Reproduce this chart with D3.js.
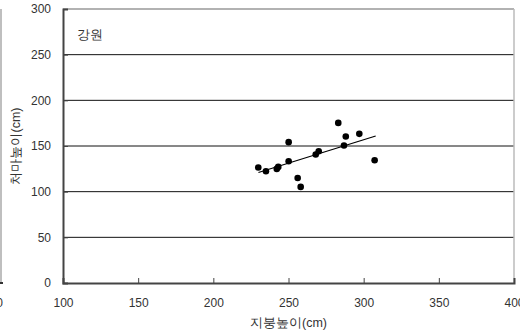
<!DOCTYPE html>
<html><head><meta charset="utf-8">
<script src="https://cdn.jsdelivr.net/npm/d3@7"></script>
<style>body{margin:0;background:#fff}svg{display:block}text{font-family:"Liberation Sans",Arial,sans-serif}</style>
</head><body><svg id="c" width="520" height="336"></svg>
<script>
const region = "강원";
const xTitle = "지붕높이(cm)";
const yTitle = "처마높이(cm)";
const xTicks = [100,150,200,250,300,350,400];
const yTicks = [0,50,100,150,200,250,300];
const roofHeight = [229.9,235.0,242.2,243.2,250.1,250.1,256.1,258.1,268.1,270.1,283.1,286.9,288.1,297.1,307.3];
const eaveHeight = [126.4,122.4,124.9,127.1,154.2,133.3,115.0,105.2,140.7,144.3,175.3,150.5,160.4,163.3,134.4];
const trendX = [230,308];
const trendY = [121,161];

const svg = d3.select("#c");
const L=63,R=514,T=9,B=283;
const x = d3.scaleLinear().domain([100,400]).range([L,R]);
const y = d3.scaleLinear().domain([0,300]).range([B,T]);

// remnant of neighbouring panel at left
svg.append("line").attr("x1",1).attr("x2",1).attr("y1",T).attr("y2",B).attr("stroke","#aaa").attr("stroke-width",1.5);
svg.append("line").attr("x1",0).attr("x2",3).attr("y1",B).attr("y2",B).attr("stroke","#333").attr("stroke-width",2);
svg.append("text").attr("x",-7).attr("y",307).attr("text-anchor","middle").attr("font-size",12).attr("fill","#333").text("400");

// gridlines
svg.append("g").selectAll("line").data(yTicks.filter(d=>d>0&&d<300)).join("line")
  .attr("x1",L).attr("x2",R).attr("y1",d=>y(d)).attr("y2",d=>y(d)).attr("stroke","#111").attr("stroke-width",1);
// top and right border
svg.append("line").attr("x1",L).attr("x2",R).attr("y1",y(300)).attr("y2",y(300)).attr("stroke","#999").attr("stroke-width",1.5);
svg.append("line").attr("x1",R).attr("x2",R).attr("y1",T).attr("y2",B).attr("stroke","#bbb").attr("stroke-width",1.5);

// axes
const xa = svg.append("g").attr("transform",`translate(0,${B})`)
  .call(d3.axisBottom(x).tickValues(xTicks).tickSize(-5).tickPadding(15).tickFormat(d3.format("d")));
const ya = svg.append("g").attr("transform",`translate(${L},0)`)
  .call(d3.axisLeft(y).tickValues(yTicks).tickSize(-5).tickPadding(12).tickFormat(d3.format("d")));
[xa,ya].forEach(a=>{
  a.select(".domain").attr("stroke","#444").attr("stroke-width",2);
  a.selectAll(".tick line").attr("stroke","#444");
  a.selectAll("text").attr("font-size",12).attr("fill","#333").attr("font-family","Liberation Sans, Arial, sans-serif");
});

// trend line
svg.append("line").attr("x1",x(trendX[0])).attr("y1",y(trendY[0])).attr("x2",x(trendX[1])).attr("y2",y(trendY[1]))
  .attr("stroke","#000").attr("stroke-width",1.2);
// points
svg.append("g").selectAll("circle").data(roofHeight.map((v,i)=>[v,eaveHeight[i]])).join("circle")
  .attr("cx",d=>x(d[0])).attr("cy",d=>y(d[1])).attr("r",3.3).attr("fill","#000");

// labels
svg.append("text").attr("x",77).attr("y",39).attr("font-size",12.5).attr("fill","#333").attr("font-family","Noto Sans CJK KR").text(region);
svg.append("text").attr("x",(L+R)/2).attr("y",327).attr("text-anchor","middle").attr("font-size",12.5).attr("fill","#333").attr("font-family","Noto Sans CJK KR").text(xTitle);
svg.append("text").attr("transform",`translate(20,${(T+B)/2}) rotate(-90)`).attr("text-anchor","middle").attr("font-size",12.5).attr("fill","#333").attr("font-family","Noto Sans CJK KR").text(yTitle);
</script></body></html>
